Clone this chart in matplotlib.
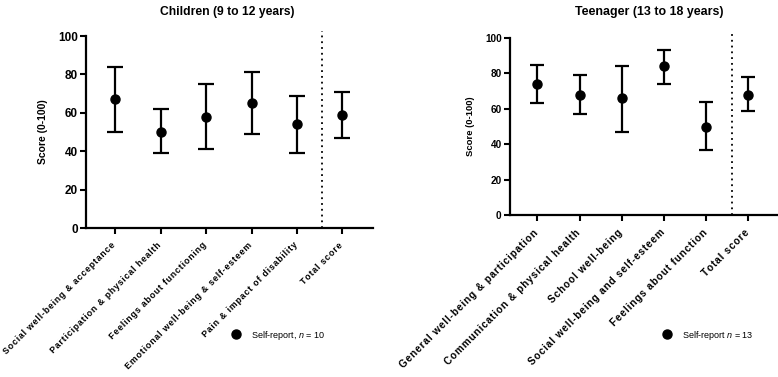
import numpy as np
import matplotlib
matplotlib.use('Agg')
import matplotlib.pyplot as plt
from matplotlib.lines import Line2D

plt.rcParams['font.family'] = ['Liberation Sans', 'DejaVu Sans']
plt.rcParams['mathtext.fontset'] = 'custom'
plt.rcParams['mathtext.it'] = 'Liberation Sans:italic'
plt.rcParams['mathtext.rm'] = 'Liberation Sans'

# Children (9 to 12 years)
child_labels = ['Social well-being & acceptance', 'Participation & physical health',
                'Feelings about functioning', 'Emotional well-being & self-esteem',
                'Pain & impact of disability', 'Total score']
child_mean = [67, 50, 58, 65, 54, 59]
child_low = [50, 39, 41, 49, 39, 47]
child_high = [84, 62, 75, 81, 69, 71]

# Teenager (13 to 18 years)
teen_labels = ['General well-being & participation', 'Communication & physical health',
               'School well-being', 'Social well-being and self-esteem',
               'Feelings about function', 'Total score']
teen_mean = [74, 68, 66, 84, 50, 68]
teen_low = [63, 57, 47, 74, 37, 59]
teen_high = [85, 79, 84, 93, 64, 78]


def spaced(s):
    # mimic the letter-spaced axis labels
    return '\u200a'.join(s)


def draw_panel(ax, labels, mean, low, high, sep_x, legend_label, legend_pos, capsize,
               xlab_size, ytick_size, ylab_size):
    x = np.arange(len(mean))
    mean = np.array(mean)
    yerr = [mean - np.array(low), np.array(high) - mean]
    ax.errorbar(x, mean, yerr=yerr, fmt='o', color='black', ms=6.5,
                elinewidth=1.6, capsize=capsize, capthick=1.6, clip_on=False, zorder=3)
    ax.plot([sep_x, sep_x], [0, 102.5], color='black', ls=(0, (1, 2.2)), lw=1.3,
            clip_on=False)
    ax.set_xlim(-0.65, 5.68)
    ax.set_ylim(0, 100)
    ax.set_yticks([0, 20, 40, 60, 80, 100])
    ax.set_xticks(x)
    ax.set_xticklabels([])
    # rotated category labels, placed by hand so they can be nudged
    for xi, lab in zip(x, labels):
        ax.annotate(spaced(lab), xy=(xi, 0), xycoords=('data', 'axes fraction'),
                    xytext=(-3, -9), textcoords='offset points', rotation=45,
                    ha='right', va='top', rotation_mode='anchor',
                    fontsize=xlab_size, fontweight='bold')
    for lab in ax.get_yticklabels():
        lab.set_fontweight('bold')
        lab.set_fontsize(ytick_size)
    ax.tick_params(axis='both', direction='out', length=4, width=1.5, pad=2)
    for side in ['top', 'right']:
        ax.spines[side].set_visible(False)
    for side in ['left', 'bottom']:
        ax.spines[side].set_linewidth(1.6)
    ax.set_ylabel('Score (0-100)', fontsize=ylab_size, fontweight='bold', labelpad=7)
    handle = Line2D([], [], marker='o', color='black', ls='none', ms=6.5)
    ax.figure.legend([handle], [legend_label], loc='center left', bbox_to_anchor=legend_pos,
                     frameon=False, fontsize=6.5, handletextpad=1.2, handlelength=1)


fig = plt.figure(figsize=(7.78, 3.77), dpi=100)
ax1 = fig.add_axes([0.1105, 0.3952, 0.369, 0.5093])
ax2 = fig.add_axes([0.6555, 0.4297, 0.343, 0.4695])

draw_panel(ax1, child_labels, child_mean, child_low, child_high,
           4.55, 'Self-report, $\\it{n}$ = 10', (0.287, 0.111), 5.5, 6.4, 8.5, 7.5)
draw_panel(ax2, teen_labels, teen_mean, teen_low, teen_high,
           4.62, 'Self-report $\\it{n}$ = 13', (0.841, 0.111), 4.8, 7.2, 7.2, 6.8)

fig.text(0.292, 0.985, 'Children (9 to 12 years)', ha='center', va='top',
         fontsize=8.7, fontweight='bold')
fig.text(0.834, 0.985, 'Teenager (13 to 18 years)', ha='center', va='top',
         fontsize=8.9, fontweight='bold')

fig.savefig('out.png', dpi=100)
